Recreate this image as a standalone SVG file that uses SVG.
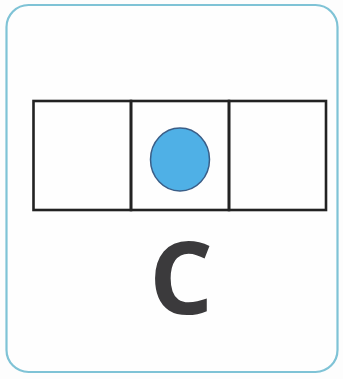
<svg xmlns="http://www.w3.org/2000/svg" width="343" height="379" viewBox="0 0 343 379">
<style>
.cell{fill:none;stroke:#222;stroke-width:2.6}
.lbl{font-family:"Open Sans","Liberation Sans",sans-serif;font-weight:bold;font-size:100px;fill:#3b3a3c}
</style>
<rect x="0" y="0" width="343" height="379" fill="#fdfdfd"/>
<rect x="6.5" y="5" width="331" height="367" rx="22" fill="#fefefe" stroke="#7fc3d6" stroke-width="2.2"/>
<g id="grid">
<rect class="cell" x="33.5" y="101" width="97.5" height="109"/>
<rect class="cell" x="131" y="101" width="98" height="109"/>
<rect class="cell" x="229" y="101" width="97" height="109"/>
</g>
<g id="dot">
<ellipse cx="180" cy="159.5" rx="29.5" ry="31.5" fill="#4fb0e6" stroke="#3a5e88" stroke-width="1.5"/>
</g>
<g id="label">
<text class="lbl" x="181" y="314" text-anchor="middle">C</text>
</g>
</svg>
